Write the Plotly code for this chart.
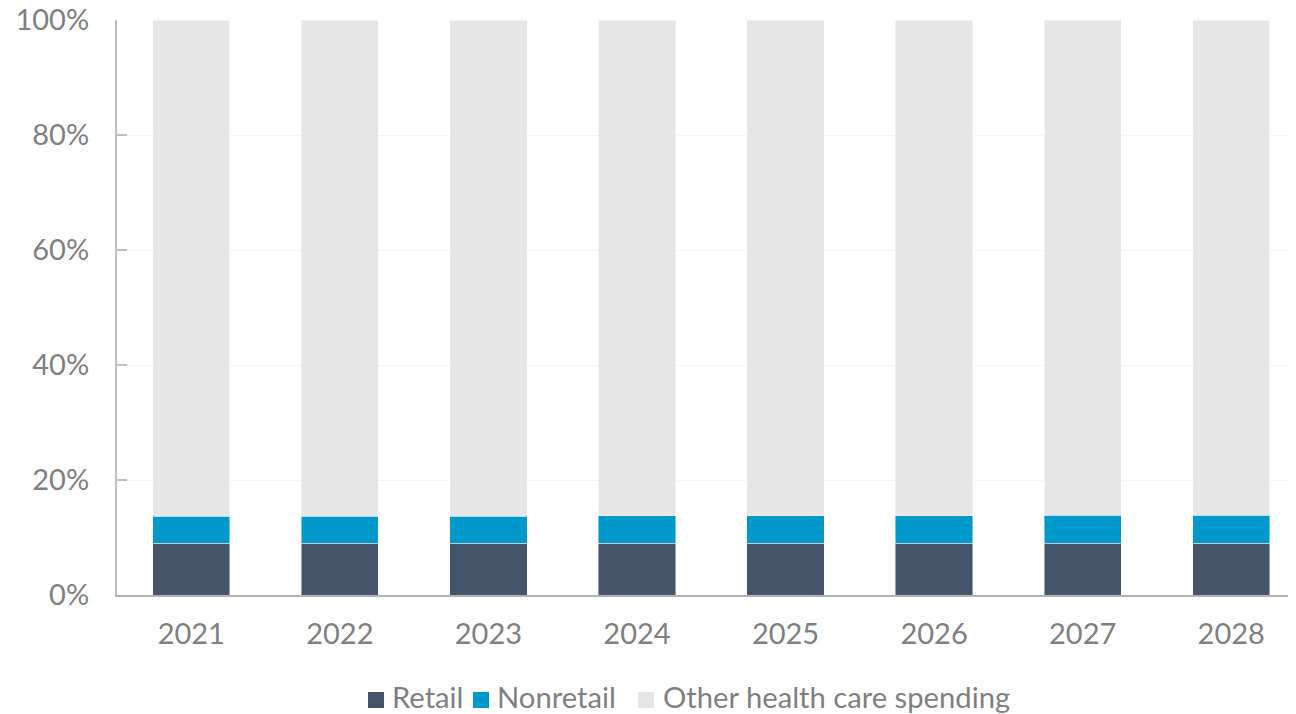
import plotly.graph_objects as go

years = ["2021", "2022", "2023", "2024", "2025", "2026", "2027", "2028"]
retail = [9.0, 9.0, 9.0, 9.0, 9.0, 9.0, 9.0, 9.0]
nonretail = [4.7, 4.7, 4.7, 4.8, 4.8, 4.8, 4.9, 4.9]
other = [round(100 - r - n, 1) for r, n in zip(retail, nonretail)]

series = [
    ("Retail", retail, "#44546A"),
    ("Nonretail", nonretail, "#0099CC"),
    ("Other health care spending", other, "#E6E6E6"),
]

# page body has an 8px margin, so the figure is slightly smaller than the window
W, H = 1288, 706
ML, MR, MT, MB = 109, 0, 12, 119
PW, PH = W - ML - MR, H - MT - MB


def px_x(px):
    return (px - ML) / PW


def px_y(py):
    return (MT + PH - py) / PH


fig = go.Figure()
for name, vals, color in series:
    fig.add_trace(go.Bar(
        x=years, y=vals, name=name, showlegend=False,
        marker=dict(color=color, line=dict(color="rgba(255,255,255,0.6)", width=0.75)),
        width=0.52,
    ))

# custom legend: colour key square + label, laid out in pixels below the plot
key_x_px = [360, 465, 630]
text_x_px = [382, 487, 653]
key_size = 16
key_top_px = 684
text_mid_px = 688
for (name, vals, color), kx, tx in zip(series, key_x_px, text_x_px):
    fig.add_shape(
        type="rect", xref="paper", yref="paper",
        x0=px_x(kx), x1=px_x(kx + key_size),
        y0=px_y(key_top_px + key_size), y1=px_y(key_top_px),
        fillcolor=color, line=dict(width=0),
    )
    fig.add_annotation(
        xref="paper", yref="paper", x=px_x(tx), y=px_y(text_mid_px),
        xanchor="left", yanchor="middle", showarrow=False,
        text=name, font=dict(size=29.2, color="#7F7F7F"),
    )

font_family = "Lato, 'Open Sans', sans-serif"
fig.update_layout(
    barmode="stack",
    width=W, height=H,
    margin=dict(l=ML, r=MR, t=MT, b=MB, autoexpand=False),
    plot_bgcolor="white", paper_bgcolor="white",
    font=dict(family=font_family, size=29, color="#7F7F7F"),
    showlegend=False,
    xaxis=dict(range=[-0.5, 7.436], showline=True, linecolor="#B3B3B3", linewidth=2,
               ticks="", showgrid=False, ticklabelstandoff=12, automargin=False),
    yaxis=dict(range=[0, 100], tickvals=[0, 20, 40, 60, 80, 100],
               ticktext=["0%", "20%", "40%", "60%", "80%", "100%"],
               showline=True, linecolor="#BFBFBF", linewidth=2,
               ticks="inside", ticklen=10, tickcolor="#BFBFBF", tickwidth=2,
               showgrid=True, gridcolor="#F4F4F4", gridwidth=1,
               ticklabelstandoff=20, ticklabeloverflow="allow",
               zeroline=False, automargin=False),
)

fig.write_html("out.html")
